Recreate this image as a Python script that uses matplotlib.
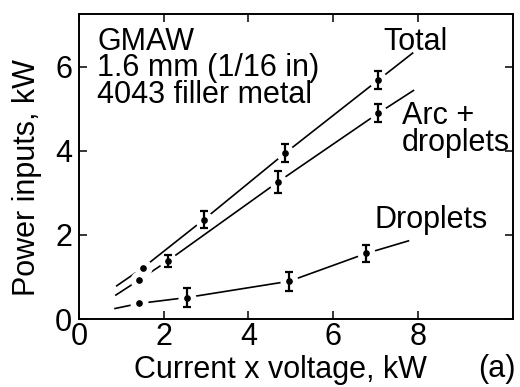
import matplotlib
matplotlib.use("Agg")
import matplotlib.pyplot as plt
import numpy as np

plt.rcParams["font.family"] = ["Liberation Sans", "DejaVu Sans"]

# measured points (x = current x voltage, y = power input), kW
total_x = [1.51, 2.94, 4.87, 7.07]
total_y = [1.22, 2.36, 3.95, 5.69]
total_err = [0.0, 0.20, 0.22, 0.22]

arc_x = [1.42, 2.09, 4.71, 7.07]
arc_y = [0.93, 1.38, 3.27, 4.90]
arc_err = [0.0, 0.15, 0.26, 0.22]

drop_x = [1.42, 2.54, 4.97, 6.78]
drop_y = [0.37, 0.51, 0.90, 1.56]
drop_err = [0.0, 0.22, 0.23, 0.21]

# where each drawn curve starts and ends
total_ends_x = [0.89, 7.88]
total_ends_y = [0.79, 6.33]
arc_ends_x = [0.87, 7.90]
arc_ends_y = [0.57, 5.44]
drop_ends_x = [0.85, 7.78]
drop_ends_y = [0.25, 1.86]

fig = plt.figure(figsize=(5.2, 3.87), dpi=100)
ax = fig.add_axes([0.152, 0.1757, 0.8345, 0.7881])

fs = 22
series = [
    (total_x, total_y, total_err, total_ends_x, total_ends_y),
    (arc_x, arc_y, arc_err, arc_ends_x, arc_ends_y),
    (drop_x, drop_y, drop_err, drop_ends_x, drop_ends_y),
]
for px, py, pe, ex, ey in series:
    cx = [ex[0]] + px + [ex[1]]
    cy = [ey[0]] + py + [ey[1]]
    ax.plot(cx, cy, color="black", lw=1.2, zorder=1)

for px, py, pe, ex, ey in series:
    # white blobs break the lines around each point
    ax.plot(px, py, "o", ms=13, mfc="white", mec="none", zorder=2)

for px, py, pe, ex, ey in series:
    pe = np.array(pe)
    has = pe > 0
    ax.errorbar(np.array(px)[has], np.array(py)[has], yerr=pe[has], fmt="none",
                ecolor="black", elinewidth=1.6, capsize=2.8, capthick=1.6, zorder=3)
    ax.plot(px, py, "o", ms=3.8, color="black", zorder=4)

ax.set_xlim(0, 10.25)
ax.set_ylim(0, 7.26)
ax.set_xticks([0, 2, 4, 6, 8])
ax.set_yticks([0, 2, 4, 6])
ax.tick_params(direction="in", length=5.5, width=1.1, top=True, right=True,
               labelsize=fs, colors="black")
ax.tick_params(axis="x", pad=2)
ax.tick_params(axis="y", pad=5)
for s in ax.spines.values():
    s.set_linewidth(1.4)

fig.text(280 / 520, 1 - 370 / 387, "Current x voltage, kW", fontsize=fs,
         ha="center", va="center")
fig.text(27 / 520, 1 - 178 / 387, "Power inputs, kW", fontsize=fs,
         ha="center", va="center", rotation=90)

ax.text(0.425, 6.96, "GMAW\n1.6 mm (1/16 in)\n4043 filler metal", fontsize=fs,
        va="top", ha="left", linespacing=0.86)
ax.text(7.18, 6.40, "Total", fontsize=fs, va="baseline", ha="left")
ax.text(7.62, 5.18, "Arc +\ndroplets", fontsize=fs, va="top", ha="left",
        linespacing=0.86)
ax.text(6.99, 2.72, "Droplets", fontsize=fs, va="top", ha="left")
fig.text(497 / 520, 1 - 369 / 387, "(a)", fontsize=fs, ha="center", va="center")

fig.savefig("out.png", dpi=100)
